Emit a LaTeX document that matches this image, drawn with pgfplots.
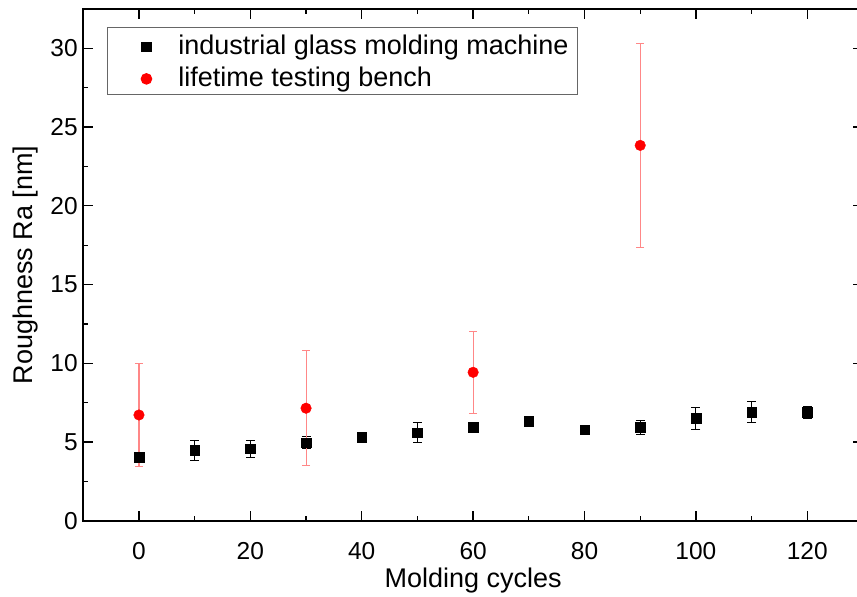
\documentclass[border=0pt]{standalone}
\usepackage{pgfplots}
\pgfplotsset{compat=1.18}
\usepackage{fontspec}
\setmainfont{Liberation Sans}
\definecolor{errred}{RGB}{255,135,135}
\begin{document}
\begin{tikzpicture}
\begin{axis}[
  scale only axis,
  width=780pt, height=512pt,
  xmin=-10, xmax=130, ymin=0, ymax=32.5,
  xtick={0,20,...,120}, ytick={0,5,...,30},
  minor x tick num=1, minor y tick num=1,
  tick align=inside,
  major tick length=10pt, minor tick length=5pt,
  every tick/.style={black, line width=1.3pt},
  axis line style={line width=1.8pt},
  /pgf/number format/assume math mode=true,
  ticklabel style={font=\fontsize{24.5}{28}\selectfont},
  xticklabel style={yshift=-18pt},
  yticklabel style={xshift=-2pt},
  label style={font=\fontsize{27}{30}\selectfont},
  xlabel={Molding cycles},
  ylabel={Roughness Ra [nm]},
  xlabel style={yshift=-1pt},
  ylabel style={yshift=6pt},
  legend style={at={(rel axis cs:0.0304,0.965)}, anchor=north west,
    draw=black!60, line width=1pt, font=\fontsize{27}{30}\selectfont,
    inner xsep=9pt, inner ysep=5pt, row sep=7pt, column sep=20pt,
    nodes={inner sep=0pt, text height=22pt, text depth=3pt},
    legend cell align=left},
  legend image code/.code={%
    \path[draw=none, fill=none] (0pt,-5pt) rectangle (42pt,5pt);
    \draw[#1] plot coordinates {(30pt,-2pt)};},
  clip=false,
]
\addplot+[only marks, mark=square*, mark size=4.8pt, black, mark options={fill=black, draw=black},
  error bars/.cd, y dir=both, y explicit, error mark=|,
  error bar style={black, line width=0.9pt},
  error mark options={black, mark size=4.5pt, line width=0.9pt}]
  coordinates {
  (0,4.05) +- (0,0.3)
  (10,4.48) +- (0,0.65)
  (20,4.57) +- (0,0.55)
  (30,4.97) +- (0,0.4)
  (40,5.3) +- (0,0.2)
  (50,5.6) +- (0,0.65)
  (60,5.94) +- (0,0.1)
  (70,6.34) +- (0,0.1)
  (80,5.79) +- (0,0.1)
  (90,5.94) +- (0,0.45)
  (100,6.51) +- (0,0.68)
  (110,6.89) +- (0,0.66)
  (120,6.89) +- (0,0.37)
  };
\addlegendentry{industrial glass molding machine}
\addplot+[only marks, mark=*, mark size=5.3pt, red, mark options={fill=red, draw=red},
  error bars/.cd, y dir=both, y explicit, error mark=|,
  error bar style={errred, line width=1.1pt},
  error mark options={errred, mark size=4pt, line width=1.1pt}]
  coordinates {
  (0,6.72) +- (0,3.28)
  (30,7.15) +- (0,3.65)
  (60,9.43) +- (0,2.6)
  (90,23.84) +- (0,6.48)
  };
\addlegendentry{lifetime testing bench}
\end{axis}
\pgfresetboundingbox
\path ([shift={(-83.3pt,-76pt)}]current axis.south west) rectangle ([shift={(-6pt,9pt)}]current axis.north east);
\end{tikzpicture}
\end{document}
